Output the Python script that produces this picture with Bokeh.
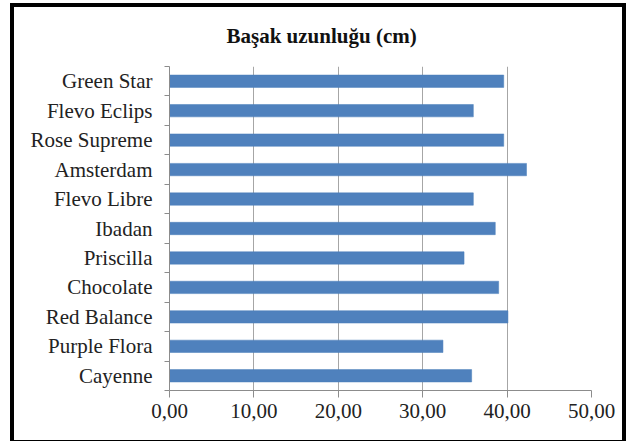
from bokeh.plotting import figure
from bokeh.models import FixedTicker, ColumnDataSource
from bokeh.embed import file_html
from bokeh.resources import INLINE

# Varieties listed from top to bottom, with spike length in cm
varieties = ["Green Star", "Flevo Eclips", "Rose Supreme", "Amsterdam", "Flevo Libre",
             "Ibadan", "Priscilla", "Chocolate", "Red Balance", "Purple Flora", "Cayenne"]
spike_length = [39.6, 36.0, 39.6, 42.3, 36.0, 38.6, 34.9, 39.0, 40.1, 32.4, 35.8]
x_ticks = [0, 10, 20, 30, 40, 50]
x_tick_labels = ["0,00", "10,00", "20,00", "30,00", "40,00", "50,00"]
title_text = "Başak uzunluğu (cm)"

n = len(varieties)
# first variety sits at the top of the chart
positions = [n - 1 - i for i in range(n)]
source = ColumnDataSource(dict(y=positions, v=spike_length, name=varieties))

SERIF = "Liberation Serif"

p = figure(
    output_backend="svg", toolbar_location=None,
    frame_width=422, frame_height=324,
    x_range=(0, 50), y_range=(-0.5, n - 0.5),
    min_border_left=155, min_border_right=31, min_border_top=56, min_border_bottom=50,
    background_fill_color="white", border_fill_color="white",
    title=title_text,
)
p.styles = {"border": "4px solid black", "margin-left": "10px", "margin-top": "3px",
            "box-sizing": "content-box"}
p.outline_line_color = None

# title sits over the middle of the whole chart rather than the plotting frame
p.title.align = "left"
p.title.offset = 57
p.title.standoff = 33
p.title.vertical_align = "top"
p.title.text_line_height = 1.0
p.title.text_font = SERIF
p.title.text_font_style = "bold"
p.title.text_font_size = "21px"
p.title.text_color = "#111111"

p.hbar(y="y", right="v", left=0, height=0.42, source=source,
       fill_color="#4F81BD", line_color="#4A7EBB", line_width=0.5)

# x axis
p.xaxis.ticker = FixedTicker(ticks=x_ticks)
p.xaxis.major_label_overrides = {t: s for t, s in zip(x_ticks, x_tick_labels)}
p.xaxis.axis_line_color = "#8c8c8c"
p.xaxis.major_tick_line_color = "#8c8c8c"
p.xaxis.major_tick_out = 7
p.xaxis.major_tick_in = 0
p.xaxis.minor_tick_line_color = None
p.xaxis.major_label_text_font = SERIF
p.xaxis.major_label_text_font_size = "21px"
p.xaxis.major_label_text_color = "#222222"
p.xaxis.major_label_standoff = 6

# y axis: labels at bar centres, ticks on the category boundaries
boundaries = [i - 0.5 for i in range(n + 1)]
p.yaxis.ticker = FixedTicker(ticks=positions, minor_ticks=boundaries)
p.yaxis.major_label_overrides = {y: s for y, s in zip(positions, varieties)}
p.yaxis.axis_line_color = "#8c8c8c"
p.yaxis.major_tick_line_color = None
p.yaxis.major_tick_out = 0
p.yaxis.major_tick_in = 0
p.yaxis.minor_tick_line_color = "#8c8c8c"
p.yaxis.minor_tick_out = 5
p.yaxis.minor_tick_in = 0
p.yaxis.major_label_text_font = SERIF
p.yaxis.major_label_text_font_size = "21px"
p.yaxis.major_label_text_color = "#222222"
p.yaxis.major_label_standoff = 12

p.xgrid.ticker = FixedTicker(ticks=x_ticks[1:])
p.xgrid.grid_line_color = "#a6a6a6"
p.xgrid.grid_line_width = 1
p.ygrid.grid_line_color = None

open("out.html", "w").write(file_html(p, INLINE))
